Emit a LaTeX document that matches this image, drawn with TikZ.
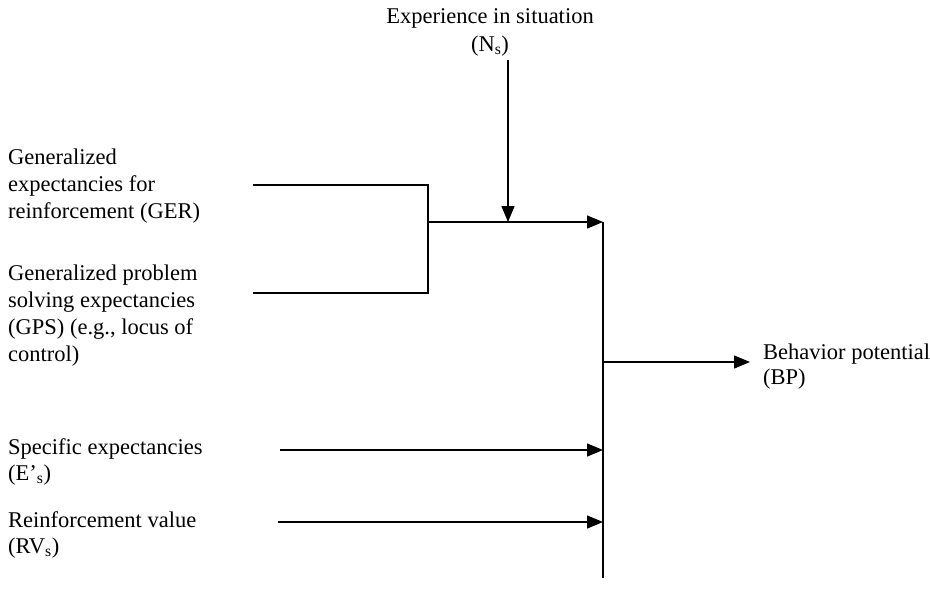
\documentclass[tikz,border=0pt]{standalone}
\usepackage{fontspec}
\setmainfont{Liberation Serif}
\usetikzlibrary{arrows.meta}
\begin{document}
\begin{tikzpicture}[x=1pt,y=-1pt,
 lbl/.style={font=\fontsize{22.5}{26.8}\selectfont, align=left, anchor=north west, inner sep=0pt},
 clbl/.style={font=\fontsize{22.5}{28}\selectfont, align=center, anchor=north, inner sep=0pt},
 ln/.style={line width=1.4pt, black},
 arr/.style={ln, -{Triangle[length=16pt,width=13pt]}}]
\useasboundingbox (0,0) rectangle (930,592);
% labels
\node[clbl] (exp) at (490,8) {Experience in situation\\(N\textsubscript{s})};
\node[lbl] (ger) at (8,149) {Generalized\\expectancies for\\reinforcement (GER)};
\node[lbl] (gps) at (8,265) {Generalized problem\\solving expectancies\\(GPS) (e.g., locus of\\control)};
\node[lbl] (se) at (8,438) {Specific expectancies\\(E’\textsubscript{s})};
\node[lbl] (rv) at (8,511) {Reinforcement value\\(RV\textsubscript{s})};
\node[lbl, font=\fontsize{22.5}{25}\selectfont] (bp) at (763,344) {Behavior potential\\(BP)};
% coordinates
\coordinate (g1) at (253,185);
\coordinate (j1) at (428,185);
\coordinate (j2) at (428,293);
\coordinate (g2) at (253,293);
\coordinate (jm) at (428,222);
\coordinate (t1) at (603,222);
\coordinate (e0) at (508,60);
\coordinate (b) at (603,578);
\coordinate (m) at (603,362);
\coordinate (m2) at (750,362);
\coordinate (s0) at (280,450);
\coordinate (r0) at (278,522);
% connectors
\draw[ln] (g1) -- (j1) -- (j2) -- (g2);
\draw[arr] (jm) -- (t1);
\draw[arr] (e0) -- (e0 |- jm);
\draw[ln] (t1) -- (b);
\draw[arr] (m) -- (m2);
\draw[arr] (s0) -- (s0 -| t1);
\draw[arr] (r0) -- (r0 -| t1);
\end{tikzpicture}
\end{document}
